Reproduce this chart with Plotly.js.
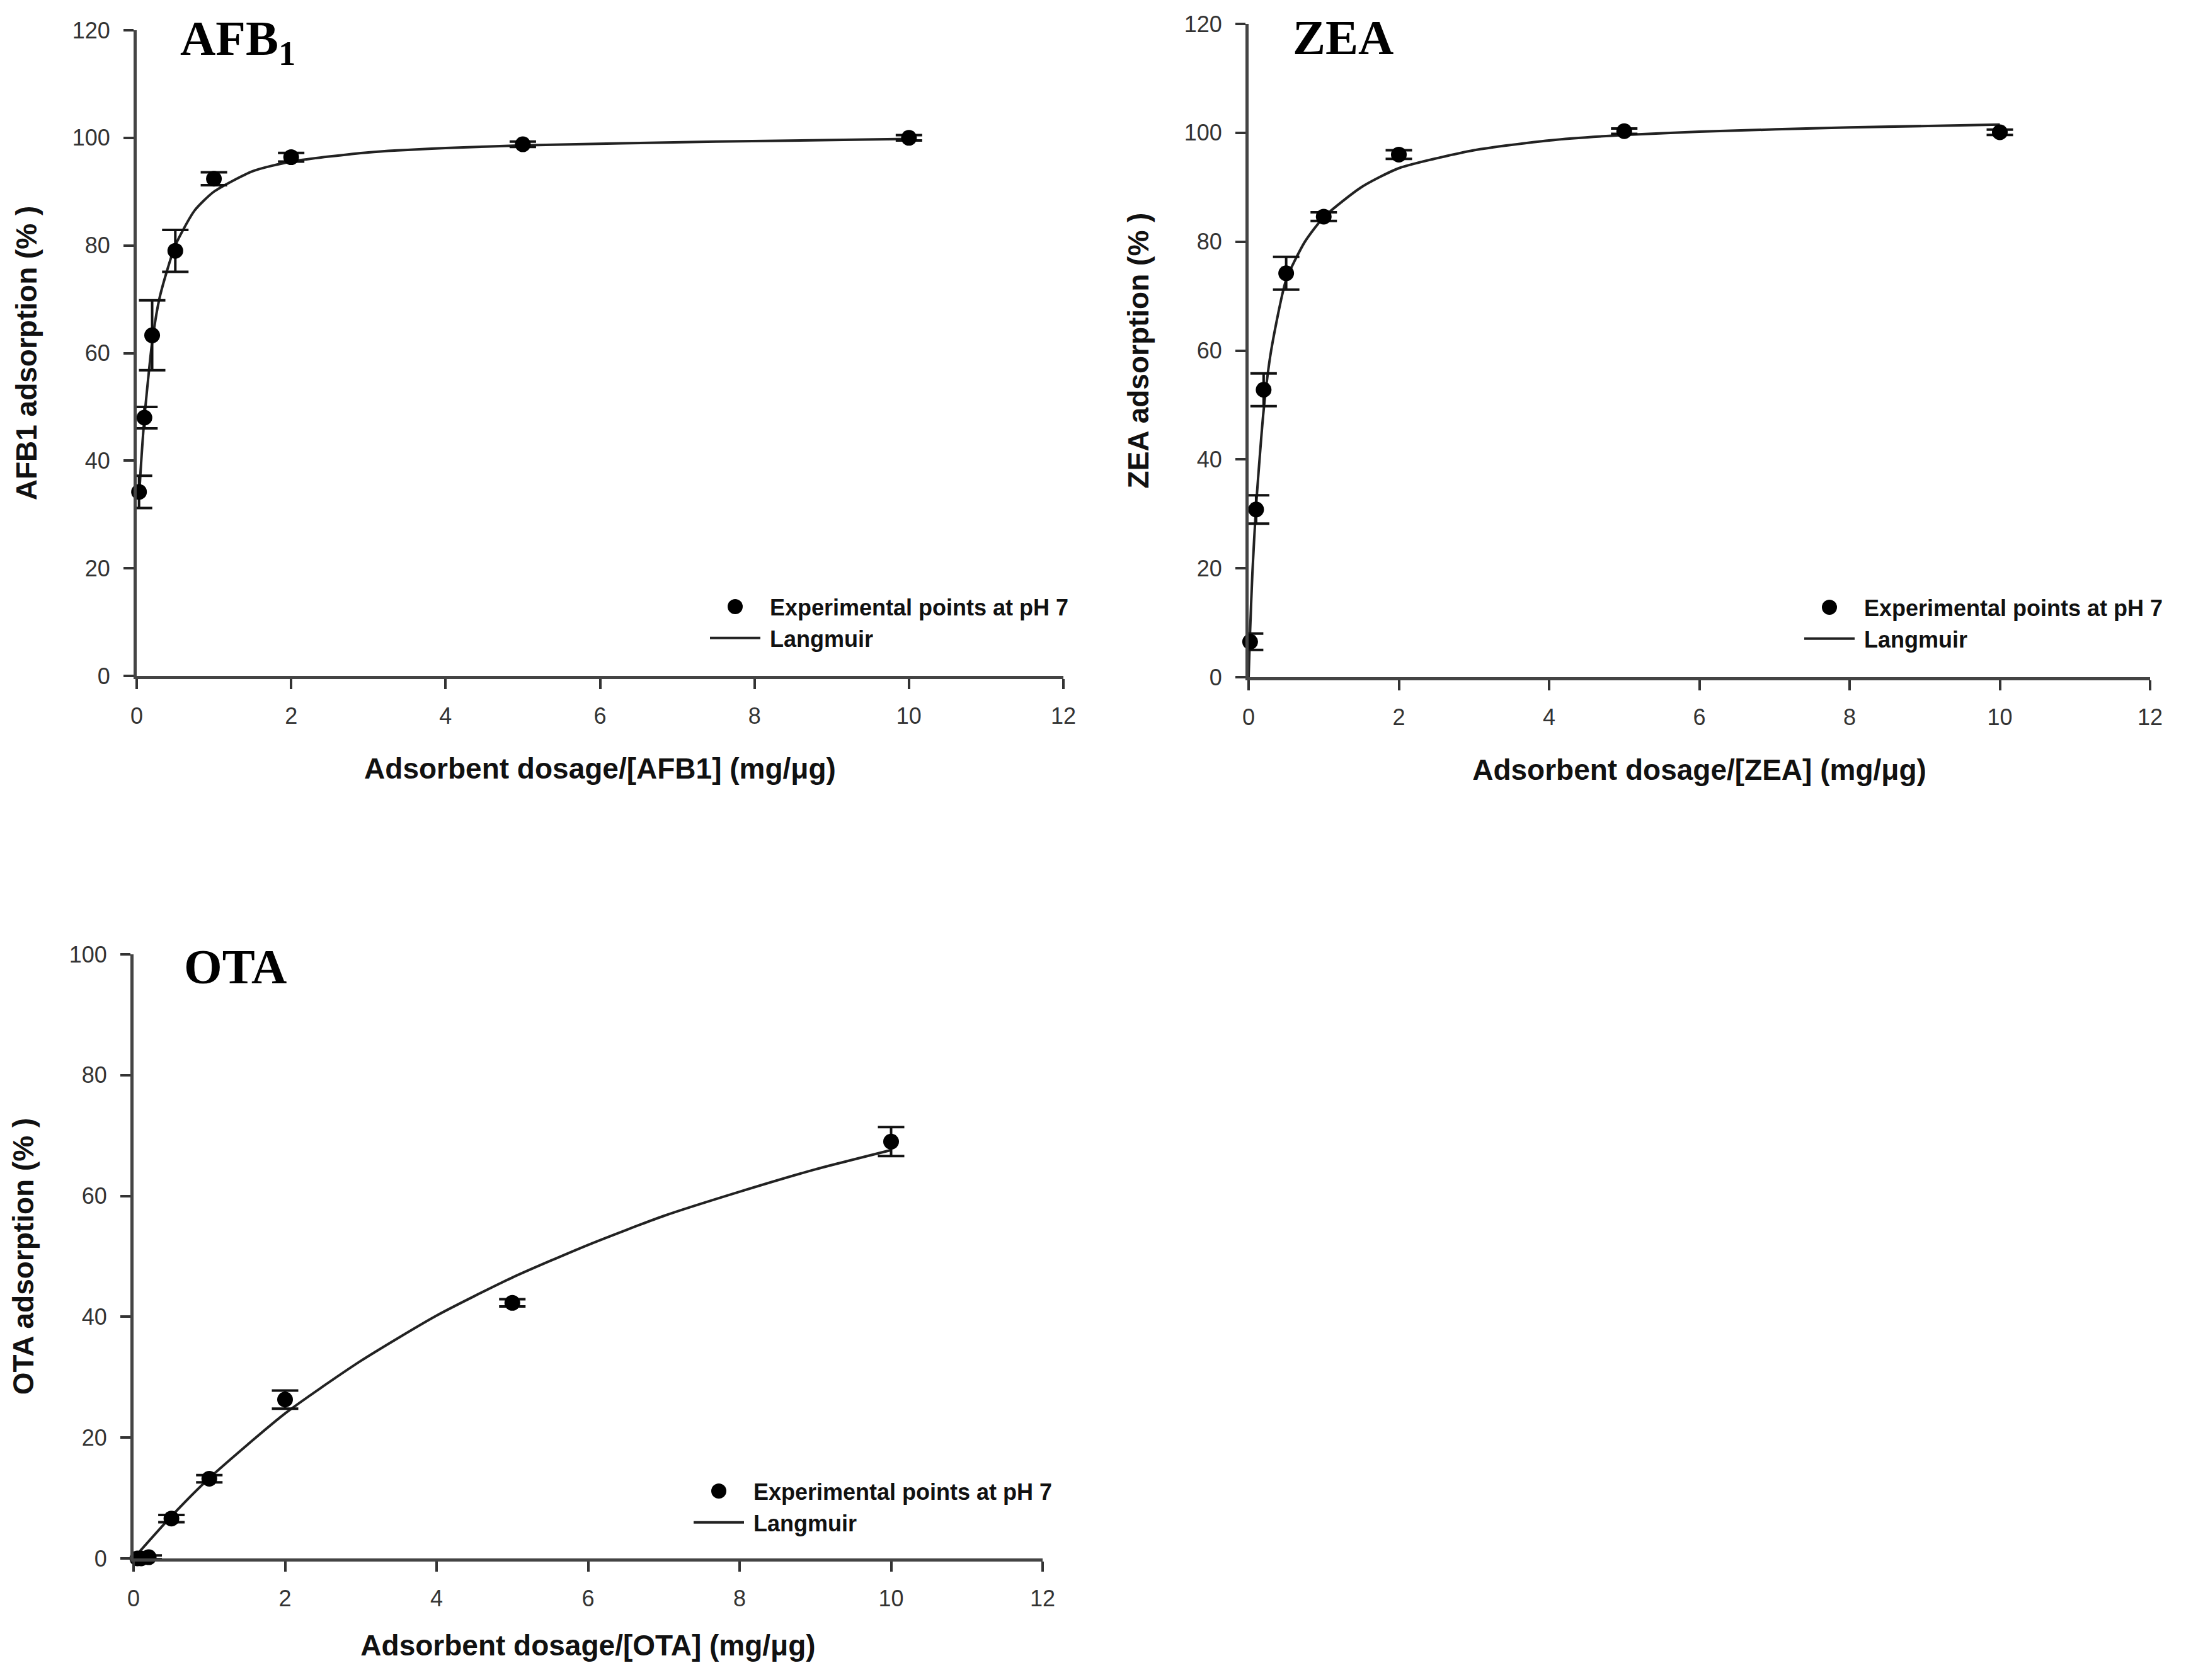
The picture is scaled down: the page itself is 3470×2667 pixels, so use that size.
<!DOCTYPE html>
<html>
<head>
<meta charset="utf-8">
<script src="https://cdn.plot.ly/plotly-3.0.1.min.js"></script>
<style>
  html, body { margin: 0; padding: 0; background: #fff; }
  #chart { width: 3470px; height: 2667px; }
</style>
</head>
<body>
<div id="chart"></div>
<script>
// AFB1 panel: experimental points (+/- error) and the Langmuir curve
const afbDose = [0.03, 0.1, 0.2, 0.5, 1, 2, 5, 10];
const afbAds  = [34.2, 48.0, 63.3, 79.0, 92.4, 96.4, 98.8, 100.0];
const afbErr  = [3.0, 2.0, 6.5, 3.9, 1.2, 0.8, 0.5, 0.5];
const afbFitX = [0.03, 0.05, 0.1, 0.2, 0.3, 0.5, 0.75, 1, 1.5, 2, 3, 4, 5, 7.5, 10];
const afbFitY = [33, 38, 48, 62, 70.5, 80, 86.5, 90, 93.8, 95.6, 97.3, 98.1, 98.6, 99.3, 99.8];

// ZEA panel
const zeaDose = [0.02, 0.1, 0.2, 0.5, 1, 2, 5, 10];
const zeaAds  = [6.5, 30.8, 52.8, 74.2, 84.6, 96.0, 100.3, 100.1];
const zeaErr  = [1.5, 2.6, 3.0, 3.0, 0.8, 0.8, 0.5, 0.5];
const zeaFitX = [0, 0.02, 0.05, 0.1, 0.2, 0.3, 0.5, 0.75, 1, 1.5, 2, 3, 4, 5, 6, 8, 10];
const zeaFitY = [0, 8.5, 19, 31.5, 49, 60, 73, 80, 84.5, 90, 93.5, 96.8, 98.6, 99.6, 100.2, 101, 101.5];

// OTA panel
const otaDose = [0.05, 0.1, 0.2, 0.5, 1, 2, 5, 10];
const otaAds  = [0, 0, 0.2, 6.6, 13.2, 26.3, 42.3, 69.0];
const otaErr  = [0.3, 0.3, 0.3, 0.6, 0.6, 1.5, 0.6, 2.4];
const otaFitX = [0, 0.5, 1, 2, 3, 4, 5, 6, 7, 8, 9, 10];
const otaFitY = [0, 7, 13.3, 24, 32.7, 40.2, 46.5, 51.9, 56.7, 60.7, 64.4, 67.6];

const panelTitles = ['AFB<sub>1</sub>', 'ZEA', 'OTA'];
const xTitles = ['Adsorbent dosage/[AFB1] (mg/μg)', 'Adsorbent dosage/[ZEA] (mg/μg)', 'Adsorbent dosage/[OTA] (mg/μg)'];
const yTitles = ['AFB1 adsorption (% )', 'ZEA adsorption (% )', 'OTA adsorption (% )'];
const pointsName = 'Experimental points at pH 7';
const fitName = 'Langmuir';

const W = 3470, H = 2667;
const SANS = 'Liberation Sans, Arial, sans-serif';
const SERIF = 'Liberation Serif, Times New Roman, serif';
const NBSP = '\u00a0';   // little gap between legend symbol and text

// pixel -> paper helpers
function px(x){ return x / W; }
function py(y){ return 1 - y / H; }

function pointsTrace(x, y, err, xa, ya, lg){
    return {
        x: x, y: y, xaxis: xa, yaxis: ya, legend: lg,
        name: NBSP + pointsName, type: 'scatter', mode: 'markers',
        marker: {color: '#000', size: 25},
        error_y: {type: 'data', array: err, visible: true, color: '#111', thickness: 4, width: 21},
        cliponaxis: false, legendrank: 1
    };
}

function fitTrace(x, y, xa, ya, lg){
    return {
        x: x, y: y, xaxis: xa, yaxis: ya, legend: lg,
        name: NBSP + fitName, type: 'scatter', mode: 'lines',
        line: {color: '#222', width: 4, shape: 'spline', smoothing: 0.6},
        cliponaxis: false, legendrank: 2
    };
}

function xAxis(domain, anchor, title, standoff){
    return {
        domain: domain, anchor: anchor, range: [0, 12], dtick: 2, tick0: 0,
        showgrid: false, zeroline: false, showline: true, linecolor: '#444', linewidth: 5,
        ticks: 'outside', ticklen: 16, tickwidth: 4, tickcolor: '#333',
        ticklabelstandoff: 12,
        tickfont: {family: SANS, size: 36, color: '#333'},
        title: {text: title, standoff: standoff, font: {family: SANS, size: 46, color: '#111', weight: 'bold'}}
    };
}

function yAxis(domain, anchor, top, title){
    return {
        domain: domain, anchor: anchor, range: [0, top], dtick: 20, tick0: 0,
        showgrid: false, zeroline: false, showline: true, linecolor: '#444', linewidth: 5,
        ticks: 'outside', ticklen: 16, tickwidth: 4, tickcolor: '#333',
        ticklabelstandoff: 14,
        tickfont: {family: SANS, size: 36, color: '#333'},
        title: {text: title, standoff: 43, font: {family: SANS, size: 46, color: '#111', weight: 'bold'}}
    };
}

function legendAt(left, top){
    return {
        x: px(left), y: py(top), xanchor: 'left', yanchor: 'top',
        bgcolor: 'rgba(0,0,0,0)', borderwidth: 0, itemwidth: 80,
        tracegroupgap: 0, itemclick: false, itemdoubleclick: false,
        font: {family: SANS, size: 36, color: '#111', weight: 'bold'}
    };
}

function panelTitle(text, left, mid){
    return {
        text: '<b>' + text + '</b>', xref: 'paper', yref: 'paper',
        x: px(left), y: py(mid), xanchor: 'left', yanchor: 'middle', showarrow: false,
        font: {family: SERIF, size: 78, color: '#000'}
    };
}

const data = [
    fitTrace(afbFitX, afbFitY, 'x', 'y', 'legend'),
    pointsTrace(afbDose, afbAds, afbErr, 'x', 'y', 'legend'),
    fitTrace(zeaFitX, zeaFitY, 'x2', 'y2', 'legend2'),
    pointsTrace(zeaDose, zeaAds, zeaErr, 'x2', 'y2', 'legend2'),
    fitTrace(otaFitX, otaFitY, 'x3', 'y3', 'legend3'),
    pointsTrace(otaDose, otaAds, otaErr, 'x3', 'y3', 'legend3')
];

const layout = {
    width: W, height: H,
    margin: {l: 0, r: 0, t: 0, b: 0},
    paper_bgcolor: '#fff', plot_bgcolor: '#fff',
    showlegend: true,
    xaxis:  xAxis([px(217), px(1688)], 'y', xTitles[0], 49),
    yaxis:  yAxis([py(1073), py(48)], 'x', 120, yTitles[0]),
    xaxis2: xAxis([px(1982), px(3413)], 'y2', xTitles[1], 49),
    yaxis2: yAxis([py(1075), py(38)], 'x2', 120, yTitles[1]),
    xaxis3: xAxis([px(212), px(1655)], 'y3', xTitles[2], 40),
    yaxis3: yAxis([py(2474), py(1515)], 'x3', 100, yTitles[2]),
    legend:  legendAt(1122, 933),
    legend2: legendAt(2859, 934),
    legend3: legendAt(1096, 2337),
    annotations: [
        panelTitle(panelTitles[0], 284, 66),
        panelTitle(panelTitles[1], 2050, 60),
        panelTitle(panelTitles[2], 290, 1534)
    ]
};

Plotly.newPlot('chart', data, layout, {displayModeBar: false, staticPlot: true}).then(function(gd){
    // legend markers are capped at 16px by plotly, the figure shows them as big as the data dots
    gd.querySelectorAll('.legendpoints path.scatterpts').forEach(function(p){
        const t = p.getAttribute('transform') || '';
        p.setAttribute('transform', t + ' scale(1.5)');
    });
});
</script>
</body>
</html>
